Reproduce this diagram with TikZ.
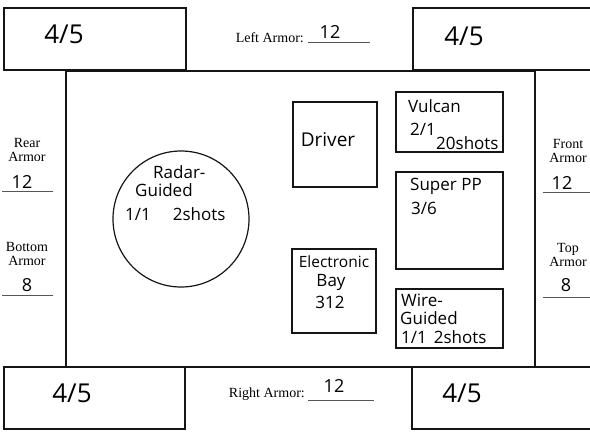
\documentclass[tikz,border=0pt]{standalone}
\usepackage{fontspec}
\setmainfont{Liberation Serif}
\newfontfamily\hand{Open Sans}
\usetikzlibrary{positioning}
\definecolor{ink}{HTML}{151515}
\definecolor{rule}{HTML}{555555}

\begin{document}
\begin{tikzpicture}[x=1pt,y=-1pt,
  hull/.style={draw=ink,line width=2.4pt},
  part/.style={draw=ink,line width=1.2pt},
  typed/.style={font=\fontsize{14}{14.5}\selectfont,inner sep=0pt,align=center},
  tread/.style={font=\hand\fontsize{26}{28}\selectfont,inner sep=0pt},
  val/.style={font=\hand\fontsize{18}{18}\selectfont,inner sep=0pt},
  hw/.style={font=\hand\fontsize{17}{19}\selectfont,inner sep=0pt,anchor=west}]
 \useasboundingbox (0,0) rectangle (590,432);
 % body and tracks
 \draw[hull] (66,71) rectangle (535,367);
 \foreach \x/\y/\w in {4/8/182, 413/8/178, 4/367/181, 412/367/179}
   \draw[hull,fill=white] (\x,\y) rectangle ++(\w,62);
 \node[tread] (tracktl) at (64,34) {4/5};
 \node[tread] (tracktr) at (464,36) {4/5};
 \node[tread] (trackbl) at (72,393) {4/5};
 \node[tread] (trackbr) at (462,393) {4/5};
 % armor values
 \node[typed,anchor=east] (leftlbl) at (304,38) {Left Armor:};
 \node[val] (leftval) at (330,32) {12};
 \draw[rule,line width=0.6pt] (308,42) -- (370,42);
 \node[typed,anchor=east] (rightlbl) at (305,394) {Right Armor:};
 \node[val] (rightval) at (334,386) {12};
 \draw[rule,line width=0.6pt] (308,400) -- (374,400);
 \node[typed] (rearlbl) at (27,150) {Rear\\Armor};
 \node[val] (rearval) at (22,182) {12};
 \draw[rule,line width=0.6pt] (2,191) -- (53,191);
 \node[typed] (botlbl) at (27,254) {Bottom\\Armor};
 \node[val] (botval) at (27,285) {8};
 \draw[rule,line width=0.6pt] (2,295) -- (53,295);
 \node[typed] (frontlbl) at (568,151) {Front\\Armor};
 \node[val] (frontval) at (562,183) {12};
 \draw[rule,line width=0.6pt] (543,192) -- (590,192);
 \node[typed] (toplbl) at (568,255) {Top\\Armor};
 \node[val] (topval) at (566,285) {8};
 \draw[rule,line width=0.6pt] (543,297) -- (590,297);
 % components
 \draw[part] (181,219) circle (68);
 \node[hw] (radar) at (153,172) {Radar-};
 \node[hw] (radarg) at (135,190) {Guided};
 \node[hw] (radarw) at (125,214) {1/1\hspace{22pt}2shots};
 \draw[part] (293,102) rectangle (377,187);
 \node[hw,font=\hand\fontsize{19}{20}\selectfont,anchor=center] (driver) at (328,140) {Driver};
 \draw[part] (396,92) rectangle (503,152);
 \node[hw] (vulcan) at (408,106) {Vulcan};
 \node[hw] (vulcanw) at (410,129) {2/1};
 \node[hw] (vulcans) at (436,143) {20shots};
 \draw[part] (396,172) rectangle (503,269);
 \node[hw] (superpp) at (410,186) {Super PP};
 \node[hw] (superw) at (411,208) {3/6};
 \draw[part] (292,249) rectangle (376,333);
 \node[hw,font=\hand\fontsize{15.5}{17}\selectfont,anchor=center] (ebay) at (334,262) {Electronic};
 \node[hw,anchor=center] (ebayb) at (331,282) {Bay};
 \node[hw,anchor=center] (ebayw) at (330,302) {312};
 \draw[part] (396,289) rectangle (503,348);
 \node[hw] (wire) at (401,300) {Wire-};
 \node[hw] (wireg) at (400,318) {Guided};
 \node[hw] (wirew) at (401,337) {1/1\hspace{7pt}2shots};
\end{tikzpicture}
\end{document}
